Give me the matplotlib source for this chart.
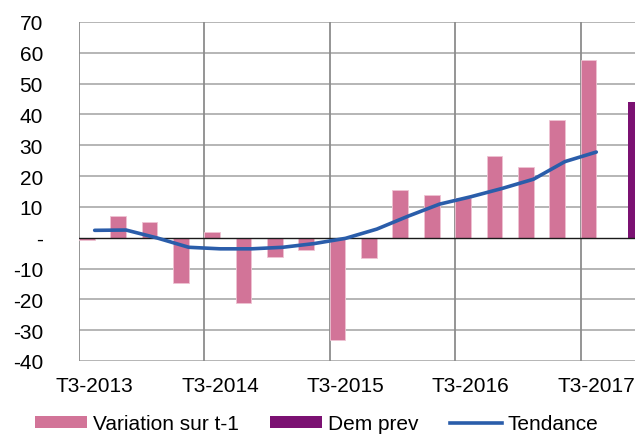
import matplotlib
matplotlib.use("Agg")
import matplotlib.pyplot as plt
import numpy as np
from matplotlib.patches import Patch
from matplotlib.lines import Line2D

plt.rcParams['font.family'] = ['Liberation Sans', 'DejaVu Sans']

# Quarterly categories, T3-2013 .. T4-2017
quarters = []
for year in range(2013, 2018):
    for q in (1, 2, 3, 4):
        if (year == 2013 and q < 3):
            continue
        quarters.append(f"T{q}-{year}")

variation = [-0.8, 7.0, 5.1, -14.6, 1.7, -21.2, -6.1, -4.0, -33.1, -6.5,
             15.4, 13.9, 12.8, 26.4, 23.1, 38.1, 57.6, np.nan]
dem_prev = [np.nan] * 17 + [43.9]
tendance = [2.4, 2.5, -0.1, -3.1, -3.6, -3.6, -3.1, -1.9, -0.2, 2.8,
            7.0, 10.9, 13.3, 16.0, 19.0, 24.7, 27.8, np.nan]

y_ticks = list(range(-40, 71, 10))
y_labels = ["-" if v == 0 else str(v) for v in y_ticks]

W, H = 635, 435
fig = plt.figure(figsize=(W / 100, H / 100), dpi=100)
left, right, top, bottom = 79, 643.3, 23, 362
ax = fig.add_axes([left / W, (H - bottom) / H, (right - left) / W, (bottom - top) / H])

x = np.arange(len(quarters))
bw = 0.5
ax.bar(x - bw / 2, variation, width=bw, color="#D27498", edgecolor="#EFC3D3",
       linewidth=0.6, zorder=3, label="Variation sur t-1")
ax.bar(x + bw / 2, dem_prev, width=bw, color="#7B1172", zorder=3, label="Dem prev")
ax.plot(x, tendance, color="#2A5DAA", linewidth=2.6, solid_capstyle="round",
        solid_joinstyle="round", zorder=4, label="Tendance")

ax.set_xlim(-0.5, len(quarters) - 0.5)
ax.set_ylim(-40, 70)

# horizontal gridlines
for v in y_ticks:
    if v != 0:
        ax.axhline(v, color="#A9A9A9", linewidth=1.2, zorder=1)
ax.axhline(0, color="#1A1A1A", linewidth=1.0, zorder=3.5)
# vertical separators every 4 quarters
for b in np.arange(-0.5, len(quarters), 4):
    ax.axvline(b, color="#8C8C8C", linewidth=1.3, zorder=1)

for s in ax.spines.values():
    s.set_visible(False)

ax.set_yticks(y_ticks)
ax.set_yticklabels(y_labels)
ax.set_xticks(x[::4])
ax.set_xticklabels(quarters[::4])
ax.tick_params(axis="y", length=0, pad=26, labelsize=15)
ax.tick_params(axis="x", length=0, pad=11, labelsize=15)

handles = [Patch(facecolor="#D27498", edgecolor="none"),
           Patch(facecolor="#7B1172", edgecolor="none"),
           Line2D([0], [0], color="#2A5DAA", linewidth=2.6)]
labels = ["Variation sur t-1", "Dem prev", "Tendance"]
fig.legend(handles, labels, loc="center", bbox_to_anchor=(317 / W, 1 - 425 / H),
           ncol=3, frameon=False, fontsize=15, handlelength=2.5, handleheight=0.5,
           handletextpad=0.28, columnspacing=1.5, borderpad=0, borderaxespad=0)

fig.savefig("out.png", dpi=100)
